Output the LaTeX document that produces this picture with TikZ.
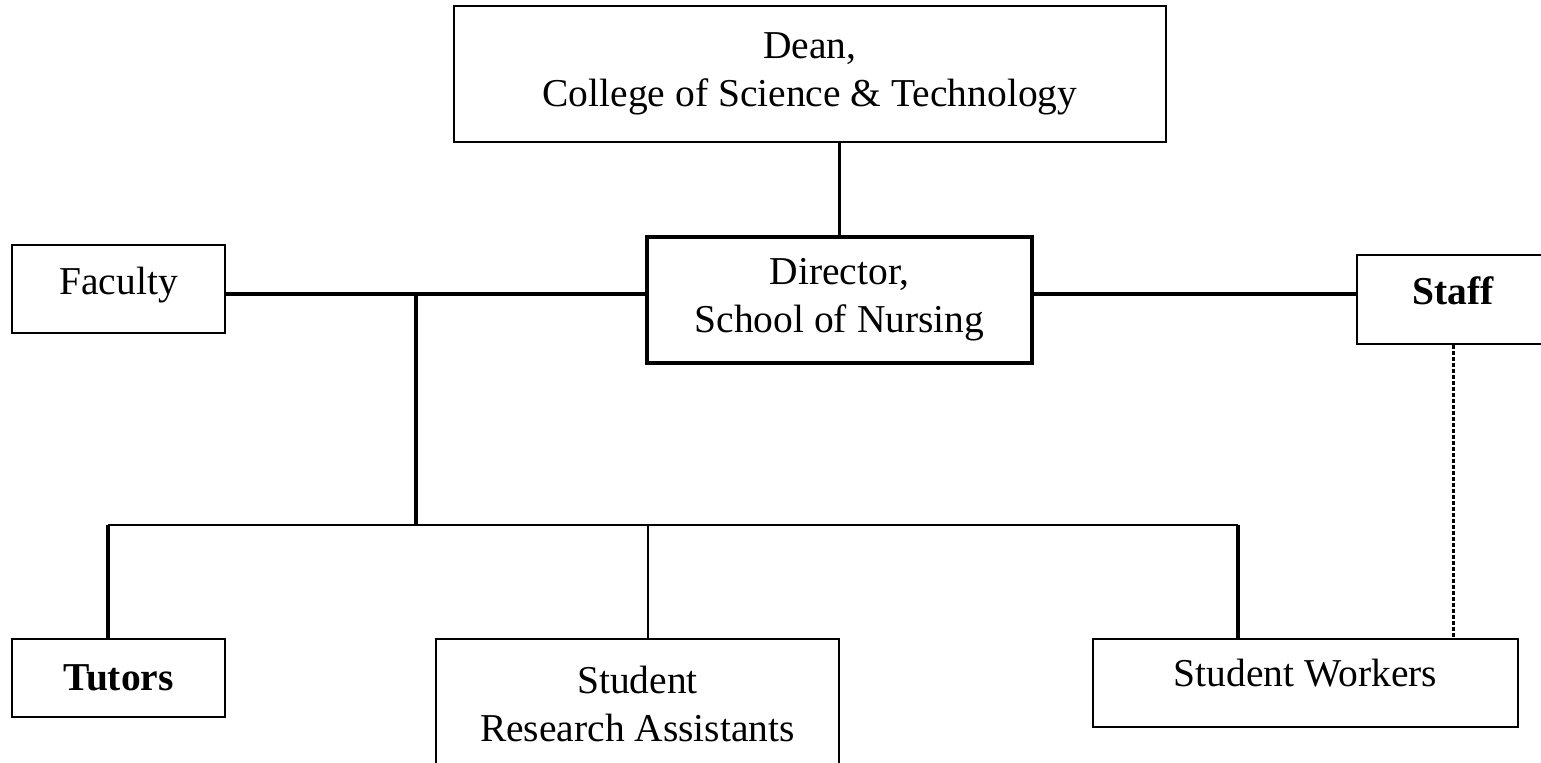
\documentclass[tikz,border=0pt]{standalone}
\usepackage{fontspec}
\setmainfont{Liberation Serif}
\usetikzlibrary{positioning}

\begin{document}
\begin{tikzpicture}
		[x=0.5pt,y=-0.5pt,
		block/.style ={rectangle, draw=black, line width=0.7pt, align=center, inner sep=0pt,
		font=\fontsize{19.75}{24}\selectfont},
		head/.style = {block, line width=1.8pt},
		boldblock/.style = {block, font=\fontsize{19.75}{24}\selectfont\bfseries},
		line/.style ={draw, line width=1.6pt},
		thinline/.style ={draw, line width=0.9pt},
		dotline/.style ={draw, line width=1.5pt, dash pattern=on 2pt off 1pt},
		]
		\useasboundingbox (0,0) rectangle (1541,763);

		\draw (810,74) node[block, minimum width=356pt, minimum height=68pt] (Dean) {Dean,\\College of Science \& Technology};
		\draw (839.5,300) node[head, minimum width=192.5pt, minimum height=63pt] (Director) {Director,\\School of Nursing};
		\draw (118.5,289) node[block, minimum width=106.5pt, minimum height=44pt, text depth=8.5pt] (Faculty) {Faculty};
		\draw (1453,299.5) node[boldblock, minimum width=96pt, minimum height=44.5pt, text depth=9pt] (Staff) {Staff};

		\draw (118.5,678) node[boldblock, minimum width=106.5pt, minimum height=39pt] (Tutors) {Tutors};
		\draw (637.5,703.5) node[block, minimum width=201.5pt, minimum height=64.5pt] (Assistants) {Student\\Research Assistants};
		\draw (1305.5,683) node[block, minimum width=212.5pt, minimum height=44pt, text depth=10pt] (Workers) {Student Workers};

		\coordinate (mid) at (416,294);
		\coordinate (b1) at (108,525);
		\coordinate (b2) at (648,525);
		\coordinate (b3) at (1238,525);

		\path[line]
		(Dean.south -| Director.north) edge (Director.north)
		(Faculty.east |- mid) edge (Director.west |- mid)
		(Director.east |- mid) edge (Staff.west |- mid)
		(mid) edge (mid |- b1)
		(b1) edge (b1 |- Tutors.north)
		(b3) edge (b3 |- Workers.north);
		\path[thinline]
		(b1) edge (b3)
		(b2) edge (b2 |- Assistants.north);
		\path[dotline] (Staff.south) -- (Staff.south |- Workers.north);
	\end{tikzpicture}
\end{document}
